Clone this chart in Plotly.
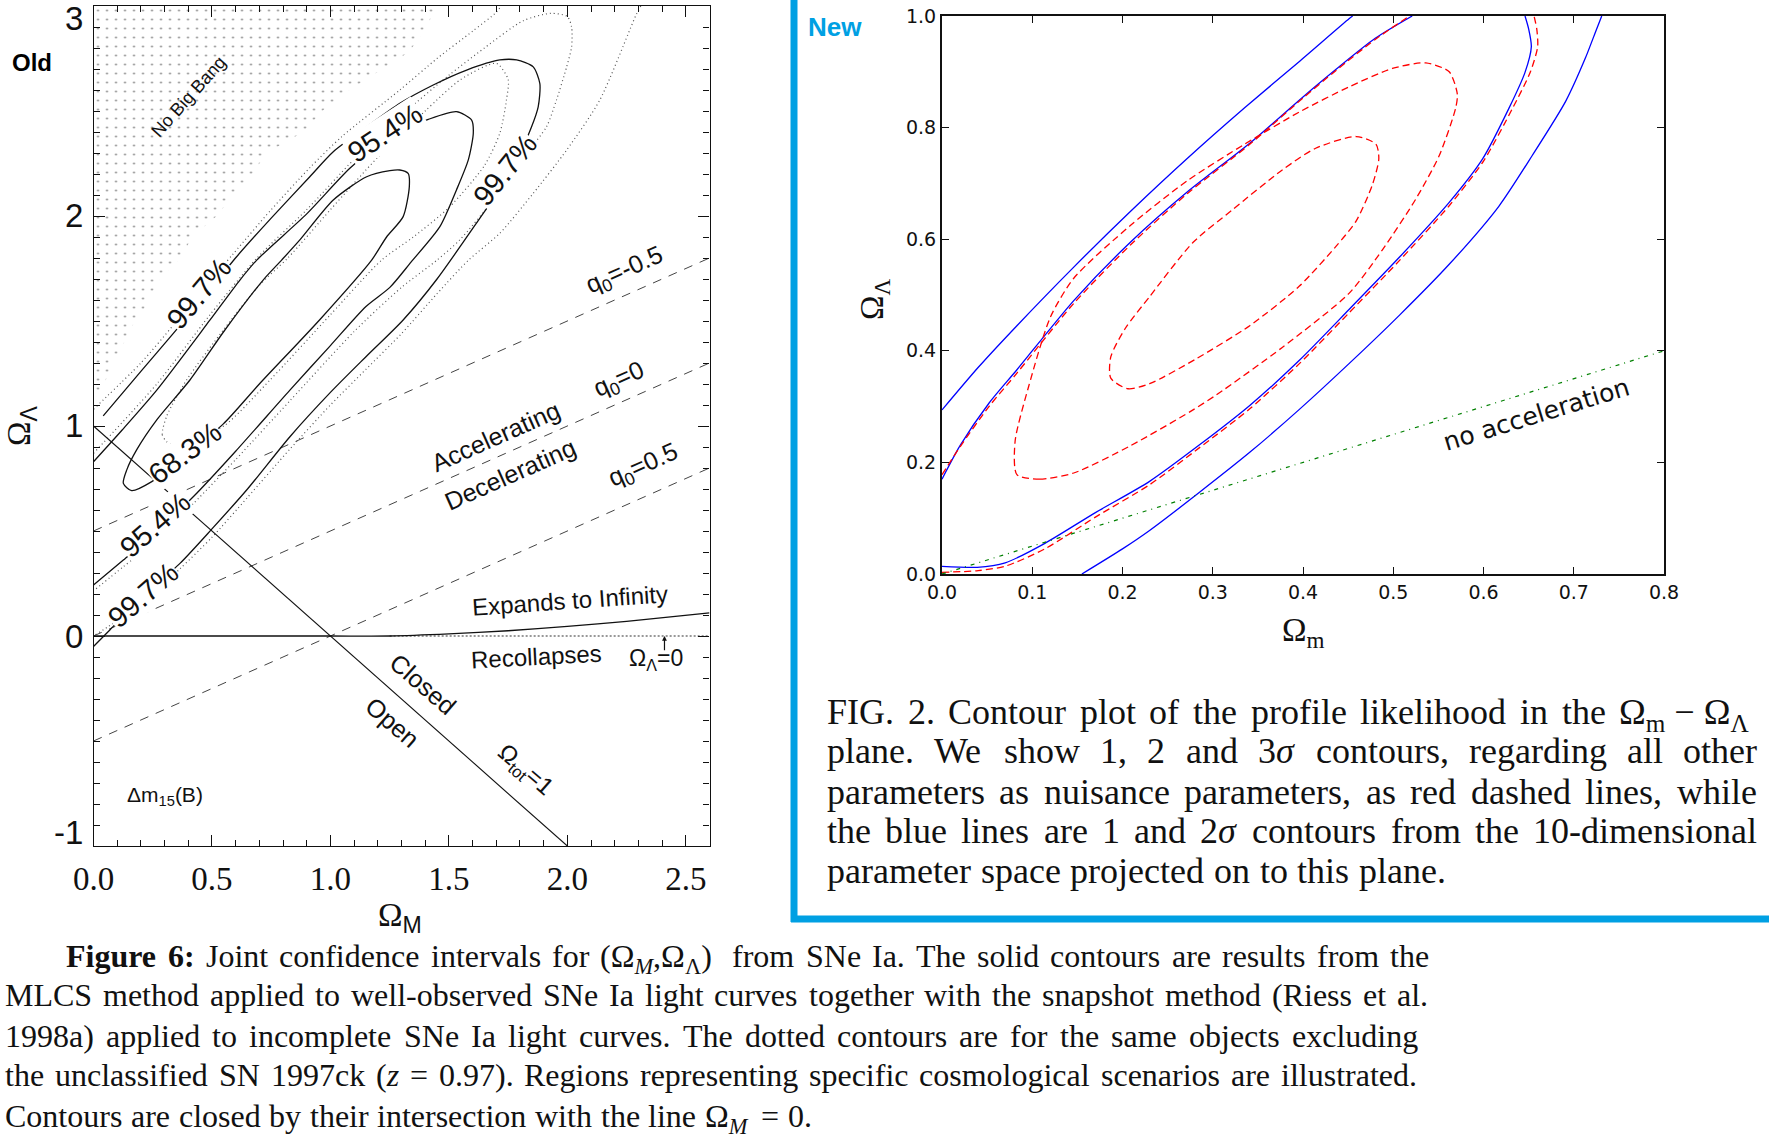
import re
import plotly.graph_objects as go

W, H = 1769, 1145

# ===================== LEFT PANEL ("Old") DATA =====================
S68_M = [0.246, 0.40, 0.548, 0.70, 0.954, 1.174, 1.237, 1.307, 1.333, 1.328, 1.293, 1.251, 1.153, 1.012, 0.871, 0.794, 0.716, 0.55, 0.407, 0.267, 0.182, 0.14, 0.126, 0.161, 0.246]
S68_L = [0.735, 0.87, 1.01, 1.20, 1.505, 1.79, 1.90, 1.997, 2.14, 2.203, 2.219, 2.216, 2.187, 2.076, 1.886, 1.79, 1.695, 1.45, 1.219, 1.029, 0.886, 0.79, 0.727, 0.692, 0.735]

S95_M = [0.0, 0.126, 0.25, 0.421, 0.6, 0.829, 1.0, 1.15, 1.251, 1.34, 1.462, 1.532, 1.582, 1.603, 1.596, 1.532, 1.413, 1.25, 1.082, 0.9, 0.689, 0.618, 0.492, 0.267, 0.12, 0.0]
S95_L = [0.243, 0.362, 0.48, 0.663, 0.88, 1.171, 1.383, 1.569, 1.66, 1.78, 1.949, 2.124, 2.267, 2.394, 2.457, 2.497, 2.46, 2.38, 2.227, 2.01, 1.79, 1.695, 1.505, 1.171, 0.98, 0.83]

S99_M = [0.0, 0.07, 0.2, 0.365, 0.5, 0.65, 0.829, 1.0, 1.15, 1.307, 1.45, 1.645, 1.76, 1.849, 1.877, 1.884, 1.856, 1.786, 1.715, 1.575, 1.434, 1.293, 1.153, 1.012, 0.913, 0.75, 0.604, 0.47, 0.337, 0.2, 0.041]
S99_L = [-0.05, 0.03, 0.18, 0.346, 0.51, 0.70, 0.949, 1.16, 1.33, 1.505, 1.70, 2.013, 2.20, 2.425, 2.52, 2.63, 2.71, 2.743, 2.743, 2.695, 2.624, 2.537, 2.425, 2.306, 2.187, 1.99, 1.806, 1.62, 1.441, 1.26, 1.048]

D68_M = [0.309, 0.29, 0.31, 0.393, 0.55, 0.70, 0.82, 1.0, 1.2, 1.4, 1.55, 1.70, 1.75, 1.743, 1.715, 1.65, 1.50, 1.35, 1.216, 1.0, 0.745, 0.55, 0.40, 0.33, 0.309]
D68_L = [0.925, 0.96, 1.05, 1.219, 1.46, 1.67, 1.80, 2.03, 2.28, 2.50, 2.65, 2.727, 2.65, 2.552, 2.394, 2.24, 2.04, 1.9, 1.79, 1.53, 1.219, 1.0, 0.93, 0.915, 0.925]

D95_M = [0.0, 0.267, 0.492, 0.69, 0.9, 1.1, 1.3, 1.5, 1.65, 1.814, 1.93, 2.0, 2.018, 2.018, 1.997, 1.954, 1.912, 1.828, 1.687, 1.546, 1.45, 1.3, 1.1, 0.829, 0.6, 0.421, 0.25, 0.126, 0.0]
D95_L = [0.87, 1.20, 1.53, 1.80, 2.03, 2.27, 2.48, 2.67, 2.80, 2.93, 2.965, 2.95, 2.90, 2.806, 2.71, 2.552, 2.425, 2.298, 2.076, 1.886, 1.79, 1.66, 1.45, 1.12, 0.84, 0.63, 0.44, 0.33, 0.215]

D99_LEFT_M = [0.0, 0.2, 0.337, 0.47, 0.59, 0.75, 0.913, 1.05, 1.293, 1.45, 1.60, 1.70, 1.72]
D99_LEFT_L = [1.08, 1.30, 1.48, 1.66, 1.82, 2.03, 2.23, 2.38, 2.60, 2.75, 2.88, 2.97, 3.0]
D99_RIGHT_M = [2.31, 2.29, 2.137, 1.997, 1.856, 1.715, 1.583, 1.45, 1.3, 1.15, 1.0, 0.829, 0.65, 0.5, 0.365, 0.2, 0.0]
D99_RIGHT_L = [3.0, 2.957, 2.552, 2.314, 2.108, 1.918, 1.79, 1.63, 1.44, 1.27, 1.10, 0.89, 0.66, 0.47, 0.32, 0.15, 0.0]

NBB_M = [0.0, 0.045, 0.085, 0.13, 0.17, 0.21, 0.24, 0.28, 0.37, 0.415, 0.52, 0.59, 0.67, 0.73, 0.885, 0.97, 1.08, 1.21, 1.33, 1.41, 1.44, 0.0]
NBB_L = [1.12, 1.2, 1.31, 1.40, 1.49, 1.55, 1.62, 1.70, 1.80, 1.9, 2.0, 2.1, 2.2, 2.3, 2.4, 2.505, 2.6, 2.695, 2.78, 2.9, 3.0, 3.0]

Q_M = [0.0, 2.6]
Q_NEG05_L = [0.5, 1.8]
Q_0_L = [0.0, 1.3]
Q_05_L = [-0.5, 0.8]
TOT_M = [0.0, 2.0]
TOT_L = [1.0, -1.0]
EXP_M = [0.0, 1.0, 1.25, 1.5, 1.75, 2.0, 2.25, 2.6]
EXP_L = [0.0, 0.0, 0.0, 0.01, 0.025, 0.046, 0.07, 0.11]
LZERO_M = [1.25, 2.6]
LZERO_L = [0.0, 0.0]

LEFT_XTICKS = [0.0, 0.5, 1.0, 1.5, 2.0, 2.5]
LEFT_XTICKTEXT = ["0.0", "0.5", "1.0", "1.5", "2.0", "2.5"]
LEFT_YTICKS = [-1, 0, 1, 2, 3]
LEFT_YTICKTEXT = ["-1", "0", "1", "2", "3"]

LBL_TEXT = ["No Big Bang", "99.7%", "95.4%", "99.7%", "68.3%", "95.4%", "99.7%",
            "q<sub>0</sub>=-0.5", "q<sub>0</sub>=0", "Accelerating", "Decelerating", "q<sub>0</sub>=0.5",
            "Expands to Infinity", "Recollapses", "Closed", "Open", "Ω<sub>tot</sub>=1", "Δm<sub>15</sub>(B)"]
LBL_M = [0.40, 0.447, 1.23, 1.736, 0.386, 0.259, 0.21, 2.24, 2.22, 1.70, 1.76, 2.32, 2.01, 1.87, 1.39, 1.26, 1.82, 0.30]
LBL_L = [2.568, 1.632, 2.394, 2.219, 0.87, 0.529, 0.195, 1.74, 1.22, 0.95, 0.77, 0.81, 0.167, -0.098, -0.23, -0.41, -0.64, -0.76]
LBL_ANG = [-48, -50, -33, -51, -37, -41, -41, -24, -24, -24, -24, -24, -4, -3, 41, 41, 41, 0]
LBL_SIZE = [18, 29, 29, 29, 29, 29, 29, 25, 25, 25, 25, 25, 24, 24, 25, 25, 24, 21]
LBL_BG = [False, True, True, True, True, True, True, False, False, False, False, False, False, False, False, False, False, False]

# ===================== RIGHT PANEL ("New") DATA =====================
B2_UL_M = [0.0, 0.04, 0.083, 0.146, 0.209, 0.272, 0.335, 0.397, 0.451, 0.455]
B2_UL_L = [0.294, 0.37, 0.445, 0.55, 0.65, 0.745, 0.835, 0.92, 0.995, 1.0]
B2_LR_M = [0.155, 0.2, 0.23, 0.285, 0.341, 0.396, 0.451, 0.507, 0.562, 0.617, 0.654, 0.691, 0.713, 0.724, 0.731]
B2_LR_L = [0.0, 0.045, 0.078, 0.146, 0.218, 0.295, 0.377, 0.464, 0.555, 0.659, 0.75, 0.847, 0.925, 0.971, 1.0]

B1_UL_M = [0.0, 0.02, 0.052, 0.083, 0.146, 0.209, 0.272, 0.341, 0.40, 0.437, 0.48, 0.521]
B1_UL_L = [0.17, 0.23, 0.306, 0.366, 0.49, 0.595, 0.685, 0.772, 0.855, 0.905, 0.96, 1.0]
B1_LR_M = [0.0, 0.039, 0.07, 0.114, 0.17, 0.23, 0.285, 0.341, 0.396, 0.451, 0.507, 0.562, 0.599, 0.628, 0.646, 0.653, 0.65, 0.646]
B1_LR_L = [0.0136, 0.012, 0.02, 0.055, 0.11, 0.166, 0.231, 0.302, 0.383, 0.474, 0.568, 0.666, 0.744, 0.834, 0.899, 0.945, 0.977, 1.0]

R3_UL_M = [0.0, 0.02, 0.052, 0.083, 0.146, 0.209, 0.272, 0.341, 0.40, 0.437, 0.48, 0.518]
R3_UL_L = [0.178, 0.228, 0.30, 0.36, 0.485, 0.59, 0.682, 0.77, 0.853, 0.903, 0.958, 1.0]
R3_LR_M = [0.0, 0.04, 0.07, 0.114, 0.17, 0.23, 0.285, 0.341, 0.396, 0.451, 0.507, 0.562, 0.60, 0.632, 0.652, 0.66, 0.659, 0.656]
R3_LR_L = [0.003, 0.006, 0.014, 0.045, 0.102, 0.16, 0.226, 0.296, 0.377, 0.468, 0.562, 0.66, 0.74, 0.834, 0.9, 0.945, 0.977, 1.0]

R2_M = [0.083, 0.108, 0.146, 0.209, 0.275, 0.304, 0.377, 0.451, 0.488, 0.525, 0.551, 0.569, 0.571, 0.562, 0.536, 0.499, 0.451, 0.396, 0.335, 0.272, 0.209, 0.146, 0.12, 0.096, 0.081, 0.083]
R2_L = [0.178, 0.17, 0.181, 0.23, 0.291, 0.321, 0.406, 0.503, 0.581, 0.672, 0.75, 0.834, 0.86, 0.9, 0.916, 0.906, 0.873, 0.828, 0.77, 0.705, 0.625, 0.53, 0.46, 0.336, 0.238, 0.178]

R1_M = [0.187, 0.206, 0.23, 0.282, 0.341, 0.396, 0.437, 0.459, 0.477, 0.484, 0.481, 0.459, 0.414, 0.377, 0.322, 0.278, 0.23, 0.203, 0.187, 0.187]
R1_L = [0.351, 0.332, 0.341, 0.386, 0.445, 0.516, 0.588, 0.633, 0.698, 0.744, 0.77, 0.784, 0.763, 0.724, 0.653, 0.594, 0.497, 0.44, 0.389, 0.351]

NOACC_M = [0.0, 0.8]
NOACC_L = [0.0, 0.4]

RIGHT_XTICKS = [0.0, 0.1, 0.2, 0.3, 0.4, 0.5, 0.6, 0.7, 0.8]
RIGHT_YTICKS = [0.0, 0.2, 0.4, 0.6, 0.8, 1.0]

NB = "\u00a0"
RIGHT_CAPTION = [
    "FIG. 2. Contour plot of the profile likelihood in the Ω<sub>m</sub>" + NB + "−" + NB + "Ω<sub>Λ</sub>",
    "plane. We show 1, 2 and 3<i>σ</i> contours, regarding all other",
    "parameters as nuisance parameters, as red dashed lines, while",
    "the blue lines are 1 and 2<i>σ</i> contours from the 10-dimensional",
    "parameter space projected on to this plane.",
]
RIGHT_CAPTION_END = [1756, 1756, 1756, 1756, None]
BOTTOM_CAPTION = [
    "<b>Figure</b> <b>6:</b> Joint confidence intervals for (Ω<sub><i>M</i></sub>,Ω<sub>Λ</sub>) from SNe Ia. The solid contours are results from the",
    "MLCS method applied to well-observed SNe Ia light curves together with the snapshot method (Riess et al.",
    "1998a) applied to incomplete SNe Ia light curves. The dotted contours are for the same objects excluding",
    "the unclassified SN 1997ck (<i>z</i> = 0.97). Regions representing specific cosmological scenarios are illustrated.",
    "Contours are closed by their intersection with the line Ω<sub><i>M</i></sub> = 0.",
]
BOTTOM_CAPTION_END = [1428, 1427, 1417, 1416, None]

# Times / Liberation Serif advance widths (per 1000 em)
TW = {' ': 250, '\u00a0': 250, '!': 333, '(': 333, ')': 333, ',': 250, '-': 333, '.': 250, ':': 278, '=': 564,
      'A': 722, 'B': 667, 'C': 667, 'D': 722, 'E': 611, 'F': 556, 'G': 722, 'H': 722, 'I': 333,
      'J': 389, 'K': 722, 'L': 611, 'M': 889, 'N': 722, 'O': 722, 'P': 556, 'Q': 722, 'R': 667,
      'S': 556, 'T': 611, 'U': 722, 'V': 722, 'W': 944, 'X': 722, 'Y': 722, 'Z': 611,
      'a': 444, 'b': 500, 'c': 444, 'd': 500, 'e': 444, 'f': 333, 'g': 500, 'h': 500, 'i': 278,
      'j': 278, 'k': 500, 'l': 278, 'm': 778, 'n': 500, 'o': 500, 'p': 500, 'q': 500, 'r': 333,
      's': 389, 't': 278, 'u': 500, 'v': 500, 'w': 722, 'x': 500, 'y': 500, 'z': 389,
      'Ω': 768, 'Λ': 722, 'σ': 550, '−': 564}
TWB = {'F': 611, 'i': 278, 'g': 500, 'u': 556, 'r': 444, 'e': 444, '6': 500, ':': 333}


def text_width(html, size):
    w, scale, bold = 0.0, 1.0, False
    for tok in re.split(r'(<[^>]+>)', html):
        if tok.startswith('<'):
            t = tok.lower()
            if t == '<sub>':
                scale = 0.82
            elif t == '</sub>':
                scale = 1.0
            elif t == '<b>':
                bold = True
            elif t == '</b>':
                bold = False
            continue
        for ch in tok:
            cw = TWB.get(ch) if bold else None
            if cw is None:
                cw = TW.get(ch, 500)
            w += cw / 1000.0 * size * scale
    return w


# ===================== FIGURE =====================
fig = go.Figure()


def px(x):
    return x / W


def py(y):
    return 1 - y / H


def add_line(xs, ys, color, width, dash="solid", ax="x", ay="y", smooth=False):
    line = dict(color=color, width=width, dash=dash)
    if smooth:
        line.update(shape="spline", smoothing=0.7)
    fig.add_trace(go.Scatter(x=xs, y=ys, mode="lines", xaxis=ax, yaxis=ay, line=line,
                             hoverinfo="skip", showlegend=False))


fig.add_trace(go.Scatter(x=NBB_M, y=NBB_L, mode="lines", fill="toself", xaxis="x", yaxis="y",
                         line=dict(width=0, color="rgba(0,0,0,0)"),
                         fillcolor="rgba(0,0,0,0)",
                         fillpattern=dict(shape=".", size=9, solidity=0.035, fgcolor="#000000",
                                          bgcolor="rgba(255,255,255,0)"),
                         hoverinfo="skip", showlegend=False))

DOT = "1px,3px"
DASH = "9px,8px"
for xs, ys in [(D68_M, D68_L), (D95_M, D95_L), (D99_LEFT_M, D99_LEFT_L), (D99_RIGHT_M, D99_RIGHT_L)]:
    add_line(xs, ys, "#555555", 1.2, DOT, smooth=True)
for ys in [Q_NEG05_L, Q_0_L, Q_05_L]:
    add_line(Q_M, ys, "#444444", 1.0, DASH)
add_line(TOT_M, TOT_L, "#111111", 1.1)
add_line(LZERO_M, LZERO_L, "#333333", 1.1, "2px,2px")
add_line(EXP_M, EXP_L, "#111111", 1.3, smooth=True)
for xs, ys in [(S68_M, S68_L), (S95_M, S95_L), (S99_M, S99_L)]:
    add_line(xs, ys, "#111111", 1.3, smooth=True)

BLUE = "#0000ff"
RED = "#ff0000"
for xs, ys in [(B2_UL_M, B2_UL_L), (B2_LR_M, B2_LR_L), (B1_UL_M, B1_UL_L), (B1_LR_M, B1_LR_L)]:
    add_line(xs, ys, BLUE, 1.3, "solid", "x2", "y2", smooth=True)
for xs, ys in [(R3_UL_M, R3_UL_L), (R3_LR_M, R3_LR_L), (R2_M, R2_L), (R1_M, R1_L)]:
    add_line(xs, ys, RED, 1.3, "7px,4px", "x2", "y2", smooth=True)
add_line(NOACC_M, NOACC_L, "#008000", 1.2, "4px,5px,1px,5px", "x2", "y2")

ann = []
SANS = "Liberation Sans, Arial"
for t, m, l, a, s, bg in zip(LBL_TEXT, LBL_M, LBL_L, LBL_ANG, LBL_SIZE, LBL_BG):
    ann.append(dict(x=m, y=l, xref="x", yref="y", text=t, textangle=a, showarrow=False,
                    xanchor="center", yanchor="middle",
                    font=dict(family=SANS, size=s, color="#111"),
                    bgcolor="white" if bg else None, borderpad=0))
ann.append(dict(x=2.375, y=-0.11, xref="x", yref="y", text="Ω<sub>Λ</sub>=0", showarrow=False,
                xanchor="center", yanchor="middle", font=dict(family=SANS, size=23, color="#111")))
ann.append(dict(x=2.41, y=0.0, xref="x", yref="y", ax=2.41, ay=-0.075, axref="x", ayref="y",
                text="", showarrow=True, arrowhead=2, arrowsize=0.8, arrowwidth=1.2, arrowcolor="#111"))
for v, t, sh in zip(LEFT_YTICKS, LEFT_YTICKTEXT, [14, 0, 0, 0, -13]):
    ann.append(dict(x=0, y=v, xref="x", yref="y", text=t, showarrow=False, xanchor="right",
                    yanchor="middle", xshift=-9, yshift=sh,
                    font=dict(family=SANS, size=33, color="#111")))
ann.append(dict(x=px(400), y=py(917), xref="paper", yref="paper", showarrow=False,
                xanchor="center", yanchor="middle",
                text="<span style='font-family:Liberation Serif'>Ω</span><sub>M</sub>",
                font=dict(family=SANS, size=33, color="#111")))
ann.append(dict(x=px(22), y=py(426), xref="paper", yref="paper", showarrow=False, textangle=-90,
                xanchor="center", yanchor="middle",
                text="<span style='font-family:Liberation Serif'>Ω</span><sub>Λ</sub>",
                font=dict(family=SANS, size=33, color="#111")))
ann.append(dict(x=px(1303), y=py(632), xref="paper", yref="paper", showarrow=False,
                xanchor="center", yanchor="middle",
                text="Ω<sub>m</sub>", font=dict(family="Liberation Serif", size=33, color="#111")))
ann.append(dict(x=px(874), y=py(299), xref="paper", yref="paper", showarrow=False, textangle=-90,
                xanchor="center", yanchor="middle",
                text="Ω<sub>Λ</sub>", font=dict(family="Liberation Serif", size=33, color="#111")))
ann.append(dict(x=0.659, y=0.285, xref="x2", yref="y2", text="no acceleration", textangle=-17,
                xanchor="center", yanchor="middle",
                showarrow=False, font=dict(family="DejaVu Sans", size=25, color="#111")))
ann.append(dict(x=px(32), y=py(62), xref="paper", yref="paper", text="<b>Old</b>", showarrow=False,
                xanchor="center", yanchor="middle", font=dict(family=SANS, size=24, color="#000")))
ann.append(dict(x=px(835), y=py(27), xref="paper", yref="paper", text="<b>New</b>", showarrow=False,
                xanchor="center", yanchor="middle", font=dict(family=SANS, size=26, color="#00A0E3")))


def add_caption(lines, ends, x_starts, ys, size):
    for line, end, x0, yc in zip(lines, ends, x_starts, ys):
        words = [w for w in line.split(' ') if w]
        widths = [text_width(w, size) for w in words]
        if end is not None and len(words) > 1:
            gap = (end - x0 - sum(widths)) / (len(words) - 1)
        else:
            gap = 0.27 * size
        x = x0
        for w, ww in zip(words, widths):
            ann.append(dict(x=px(x), y=py(yc - 0.62 * size), xref="paper", yref="paper", text=w,
                            showarrow=False, xanchor="left", yanchor="top", borderpad=0,
                            font=dict(family="Liberation Serif", size=size, color="#111")))
            x += ww + gap


add_caption(RIGHT_CAPTION, RIGHT_CAPTION_END, [826] * 5, [713, 752, 793, 832, 872], 36)
add_caption(BOTTOM_CAPTION, BOTTOM_CAPTION_END, [65, 4, 4, 4, 4], [957, 996, 1037, 1076, 1117], 32)

axis_common = dict(showline=True, linecolor="#111", mirror="allticks",
                   ticks="inside", showgrid=False, zeroline=False, tickcolor="#111", automargin=False)

fig.update_layout(
    width=W, height=H, margin=dict(l=0, r=0, t=0, b=0, pad=0, autoexpand=False),
    paper_bgcolor="white", plot_bgcolor="white", showlegend=False,
    xaxis=dict(domain=[px(93.5), px(709.5)], range=[0, 2.6], anchor="y", linewidth=1.4,
               tickvals=LEFT_XTICKS, ticktext=LEFT_XTICKTEXT, ticklen=11, tickwidth=1,
               minor=dict(dtick=0.1, ticklen=6, ticks="inside", tickcolor="#111", showgrid=False),
               tickfont=dict(family="Liberation Serif", size=33, color="#111"),
               ticklabelstandoff=3, **axis_common),
    yaxis=dict(domain=[py(846), py(6)], range=[-1, 3], anchor="x", linewidth=1.4,
               tickvals=LEFT_YTICKS, ticklen=11, tickwidth=1, showticklabels=False,
               minor=dict(dtick=0.1, ticklen=6, ticks="inside", tickcolor="#111", showgrid=False),
               **axis_common),
    xaxis2=dict(domain=[px(942), px(1664)], range=[0, 0.8], anchor="y2", linewidth=2,
                tickvals=RIGHT_XTICKS, ticktext=[f"{v:.1f}" for v in RIGHT_XTICKS],
                ticklen=7, tickwidth=1, tickfont=dict(family="DejaVu Sans", size=19, color="#111"),
                **axis_common),
    yaxis2=dict(domain=[py(574), py(16)], range=[0, 1], anchor="x2", linewidth=2,
                tickvals=RIGHT_YTICKS, ticktext=[f"{v:.1f}" for v in RIGHT_YTICKS],
                ticklen=7, tickwidth=1, tickfont=dict(family="DejaVu Sans", size=19, color="#111"),
                **axis_common),
    annotations=ann,
    shapes=[
        dict(type="line", xref="paper", yref="paper", x0=px(794), x1=px(794), y0=1, y1=py(922),
             line=dict(color="#00A0E3", width=7)),
        dict(type="line", xref="paper", yref="paper", x0=px(791), x1=1, y0=py(919), y1=py(919),
             line=dict(color="#00A0E3", width=7)),
    ],
)

fig.write_html("out.html", config={"displayModeBar": False},
               post_script="document.body.style.margin='0px';document.body.style.overflow='hidden';")
